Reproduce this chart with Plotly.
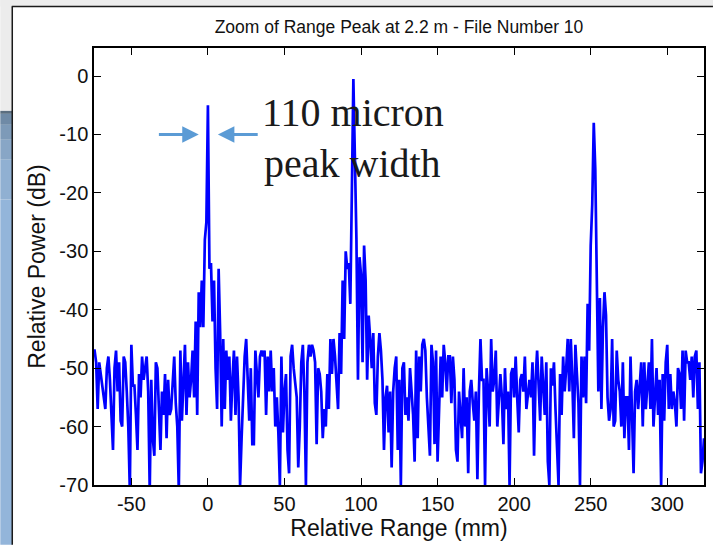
import plotly.graph_objects as go

# ---------------- data ----------------
range_mm = list(range(-75, 325))  # relative range, 1 mm steps

power_db = [
    # -75 .. -1
    -47, -47, -49, -57, -49, -51, -53, -55, -57, -50,
    -48, -52, -58, -64, -50, -47, -54, -49, -59, -60,
    -48, -49, -54, -60, -71, -46, -53, -53, -58, -64,
    -51, -55, -48, -52, -50, -48, -54, -71, -52, -62,
    -65, -49, -50, -59, -64, -54, -58, -51, -62, -52,
    -58, -57, -52, -48, -56, -60, -71, -47, -59, -52,
    -46, -58, -49, -55, -52, -47, -55, -42, -58, -37,
    -43, -35, -43, -28, -25,
    # 0 .. 88
    -5,
    -33, -32, -42, -35, -50, -57, -33, -44, -60, -45,
    -57, -47, -52, -48, -59, -52, -47, -58, -48, -55,
    -70, -62, -54, -48, -45, -52, -59, -50, -63, -63,
    -47, -51, -55, -48, -47, -48, -47, -58, -48, -54,
    -47, -54, -50, -60, -55, -61, -70, -48, -61, -54,
    -51, -64, -68, -48, -46, -50, -53, -55, -67, -60,
    -49, -46, -54, -70, -49, -46, -48, -46, -47, -49,
    -63, -50, -51, -54, -62, -57, -60, -51, -57, -45,
    -51, -45, -48, -52, -57, -44, -51, -35,
    # 89 .. 169
    -45, -30, -33, -32, -39, -20, -0.5, -14, -28, -52,
    -31, -34, -49, -29, -35, -52, -41, -45, -50, -44,
    -56, -58, -48, -44, -47, -52, -64, -55, -53, -61,
    -54, -67, -54, -50, -48, -64, -52, -70, -50, -49,
    -58, -55, -59, -50, -54, -58, -66, -47, -62, -48,
    -54, -46, -45, -47, -55, -60, -65, -46, -49, -63,
    -47, -66, -55, -48, -55, -46, -49, -54, -48, -48,
    -56, -48, -52, -64, -66, -54, -58, -62, -50, -60,
    -55,
    # 170 .. 252
    -68, -54, -52, -56, -59, -54, -69, -54, -45, -52,
    -52, -70, -50, -54, -60, -45, -54, -52, -47, -60,
    -55, -51, -55, -63, -50, -57, -54, -70, -51, -50,
    -55, -48, -55, -61, -52, -51, -54, -48, -57, -54,
    -52, -55, -49, -65, -52, -47, -53, -59, -48, -54,
    -58, -49, -66, -70, -50, -53, -49, -57, -65, -70,
    -51, -58, -48, -54, -50, -45, -54, -45, -52, -62,
    -46, -51, -56, -70, -48, -55, -48, -56, -39, -47,
    -29, -22, -8,
    # 253 .. 324
    -16, -39, -54, -38, -57, -43, -37, -41, -55, -59,
    -57, -45, -60, -59, -47, -52, -54, -60, -49, -62,
    -55, -55, -64, -48, -57, -68, -54, -52, -57, -53,
    -49, -60, -49, -57, -53, -49, -57, -45, -60, -54,
    -50, -58, -52, -70, -51, -59, -49, -46, -57, -51,
    -57, -54, -56, -60, -50, -51, -57, -47, -59, -47,
    -49, -49, -52, -48, -55, -48, -47, -57, -49, -68,
    -66, -62,
]

x_ticks = [-50, 0, 50, 100, 150, 200, 250, 300]
x_tick_labels = ["-50", "0", "50", "100", "150", "200", "250", "300"]
y_ticks = [-70, -60, -50, -40, -30, -20, -10, 0]
y_tick_labels = ["-70", "-60", "-50", "-40", "-30", "-20", "-10", "0"]

title_text = "Zoom of Range Peak at 2.2 m - File Number 10"
x_title = "Relative Range (mm)"
y_title = "Relative Power (dB)"
note_lines = ["110 micron", "peak width"]

# ---------------- layout geometry (pixels) ----------------
W, H = 715, 546
L, R, T, B = 94, 706, 48, 486


def px(x):
    return (x - L) / (R - L)


def py(y):
    return (B - y) / (B - T)


fig = go.Figure()
fig.add_trace(go.Scatter(
    x=range_mm, y=power_db, mode="lines",
    line=dict(color="#0000ff", width=2.7),
    hoverinfo="skip", showlegend=False,
))

shapes = []
# light gray frame outside the window
shapes.append(dict(type="rect", xref="paper", yref="paper",
                   x0=px(0), x1=px(W), y0=py(0), y1=py(6.5),
                   fillcolor="#ececec", line=dict(width=0), layer="below"))
shapes.append(dict(type="rect", xref="paper", yref="paper",
                   x0=px(0), x1=px(12), y0=py(0), y1=py(111),
                   fillcolor="#ececec", line=dict(width=0), layer="below"))
# blue strip on the left (stepped gradient)
strip = [(111, 114, "#5b6e80"), (114, 125, "#6f8aa6"), (125, 140, "#7d9ab8"),
         (140, 160, "#88a6c6"), (160, 200, "#90b0d2"), (200, 546, "#93b5da")]
for y0, y1, c in strip:
    shapes.append(dict(type="rect", xref="paper", yref="paper",
                       x0=px(0), x1=px(12), y0=py(y0), y1=py(y1),
                       fillcolor=c, line=dict(width=0), layer="below"))
# black window border
shapes.append(dict(type="line", xref="paper", yref="paper",
                   x0=px(11.5), x1=px(W), y0=py(6.5), y1=py(6.5),
                   line=dict(color="#1a1a1a", width=1.5)))
shapes.append(dict(type="line", xref="paper", yref="paper",
                   x0=px(12), x1=px(12), y0=py(6.5), y1=py(H),
                   line=dict(color="#1a1a1a", width=1.5)))

note_font = dict(family="Liberation Serif, Times New Roman, serif", size=40, color="#1a1a1a")
annotations = [
    dict(text=note_lines[0], xref="paper", yref="paper", x=px(261), y=py(113),
         xanchor="left", yanchor="middle", showarrow=False, font=note_font),
    dict(text=note_lines[1], xref="paper", yref="paper", x=px(263), y=py(164),
         xanchor="left", yanchor="middle", showarrow=False, font=note_font),
    dict(text="", xref="x", yref="y", axref="x", ayref="y",
         x=-6, y=-10, ax=-33, ay=-10, showarrow=True, arrowhead=2,
         arrowsize=1.1, arrowwidth=3, arrowcolor="#5b9bd5"),
    dict(text="", xref="x", yref="y", axref="x", ayref="y",
         x=6.5, y=-10, ax=33.5, ay=-10, showarrow=True, arrowhead=2,
         arrowsize=1.1, arrowwidth=3, arrowcolor="#5b9bd5"),
]

axis_common = dict(
    showline=True, linecolor="#000000", linewidth=1.5, mirror="ticks",
    ticks="inside", ticklen=7, tickwidth=1.2, tickcolor="#000000",
    showgrid=False, zeroline=False,
    tickfont=dict(size=20, color="#111111"),
)

fig.update_layout(
    width=W, height=H,
    margin=dict(l=L, r=W - R, t=T, b=H - B, pad=0),
    paper_bgcolor="#ffffff", plot_bgcolor="#ffffff",
    font=dict(family="Liberation Sans, Arial, sans-serif", color="#111111"),
    title=dict(text=title_text, x=0.5, xref="paper", xanchor="center",
               y=1 - 27 / H, yref="container", yanchor="middle",
               font=dict(size=17.5, color="#111111")),
    xaxis=dict(range=[-74.4, 324], tickvals=x_ticks, ticktext=x_tick_labels,
               title=dict(text=x_title, font=dict(size=23), standoff=6),
               **axis_common),
    yaxis=dict(range=[-70, 4.8], tickvals=y_ticks, ticktext=y_tick_labels,
               title=dict(text=y_title, font=dict(size=23), standoff=7),
               **axis_common),
    shapes=shapes,
    annotations=annotations,
)

fig.write_html("out.html")
